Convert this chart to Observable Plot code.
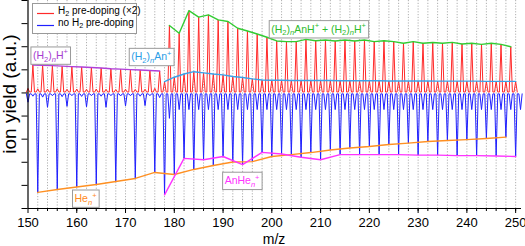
<!DOCTYPE html>
<html><head><meta charset="utf-8">
<script src="https://cdn.jsdelivr.net/npm/d3@7"></script>
<script src="https://cdn.jsdelivr.net/npm/@observablehq/plot@0.6"></script>
<style>
body{margin:0;background:#fff}
svg{font-family:"Liberation Sans",Arial,sans-serif}
</style>
</head><body><div id="chart"></div>
<script>
// ---------- data ----------
// x-axis labels and dotted grid positions (m/z)
const xTicks = [150,160,170,180,190,200,210,220,230,240,250];
const gridMz = [152,154,156,158,160,162,164,166,168,170,172,174,176,178,180,182,184,186,188,190,192,194,196,198,200,202,204,206,208,210,212,214,216,218,220,222,224,226,228,230,232,234,236,238,240,242,244,246,248,250];
const yTicks = [-5,-4,-3,-2,-1,0,1,2,3,4];

// red trace (H2 pre-doping, x2): peak heights
const hnHMz0 = 151;   // (H2)nH+ peaks, odd m/z 151..177
const hnHPeaks = [1.21,1.20,1.18,1.16,1.14,1.12,1.10,1.08,1.05,1.03,1.01,0.99,0.97,0.95];
const anHMz0 = 179;   // (H2)nAnH+ + (H2)nH+ peaks, odd m/z 179..249
const anHPeaks = [2.92,2.58,3.56,3.28,3.38,3.16,3.09,2.80,2.68,2.55,2.41,2.25,2.22,2.22,2.32,2.26,2.29,2.25,2.29,2.25,2.29,2.22,2.26,2.22,2.15,2.22,2.15,2.18,2.15,2.19,2.12,2.15,2.10,2.15,2.10,2.00];
const redEvenMz0 = 150; // small even-mass peaks 150..176
const redEvenPre = [0.20,0.18,0.17,0.18,0.16,0.17,0.16,0.17,0.16,0.15,0.16,0.15,0.16,0.20];
const anMz0 = 178;    // (H2)nAn+ peaks, even m/z 178..250
const anPeaks = [0.49,0.68,0.82,0.92,0.87,0.82,0.78,0.71,0.67,0.61,0.56,0.55,0.55,0.54,0.54,0.54,0.54,0.54,0.53,0.53,0.53,0.53,0.53,0.52,0.52,0.52,0.52,0.52,0.51,0.51,0.51,0.51,0.51,0.50,0.50,0.50,0.50];
const redFloor = 0.04;

// blue trace (no H2 pre-doping), drawn downward
const heMz0 = 152;    // Hen+ dips, m/z 152..248 step 4
const heDips = [-4.30,-4.18,-4.07,-3.96,-3.83,-3.70,-3.44,-3.53,-3.31,-3.14,-2.99,-2.97,-2.75,-2.67,-2.58,-2.47,-2.38,-2.32,-2.23,-2.17,-2.10,-2.06,-2.02,-1.97,-1.91];
const anHeMz0 = 178;  // AnHen+ dips, m/z 178..250 step 4
const anHeDips = [-4.41,-2.83,-2.89,-2.75,-3.10,-2.57,-2.64,-2.78,-2.89,-2.67,-2.67,-2.67,-2.67,-2.69,-2.69,-2.71,-2.71,-2.73,-2.75];
const blueMidMz0 = 150; // other even dips 150..174 step 4
const blueMidPre = [-0.40,-0.62,-0.58,-0.60,-0.62,-0.56,-0.55];
const blueOddPre = [-0.14,-0.18,-0.12,-0.16,-0.12,-0.15,-0.12,-0.14,-0.12,-0.13,-0.12,-0.14,-0.12,-0.20]; // 151..177
const blueOddPost = [-1.10,-0.72,-0.72,-0.72,-0.72,-0.72,-0.72,-0.72,-0.72,-0.72,-0.72,-0.72,-0.72,-0.72,-0.72,-0.72,-0.72,-0.72,-0.72,-0.72,-0.72,-0.72,-0.72,-0.72,-0.72,-0.72,-0.72,-0.72,-0.72,-0.72,-0.72,-0.72,-0.72,-0.72,-0.72,-0.72,-0.72]; // 179..251
const blueFloor = -0.04;
const peakHalfWidth = 0.33; // m/z, half base width of each peak

// annotations
const annotations = [
  {label:"(H_{2})_{n}H^{+}", mz:154.6, v:1.62, color:"#a63dd0"},
  {label:"(H_{2})_{n}An^{+}", mz:175.3, v:1.56, color:"#2b9de6"},
  {label:"(H_{2})_{n}AnH^{+} + (H_{2})_{n}H^{+}", mz:209.6, v:2.76, color:"#2dbb2d"},
  {label:"He_{n}^{+}", mz:161.8, v:-4.57, color:"#ff8a1c"},
  {label:"AnHe_{n}^{+}", mz:193.9, v:-3.80, color:"#ff33ff"}
];
const legendItems = [
  {label:"H_{2} pre-doping (×2)", color:"#ff2a2a"},
  {label:"no H_{2} pre-doping", color:"#2020ff"}
];

// ---------- build series ----------
const pts = (arr, m0, step) => arr.map((v, i) => ({mz: m0 + step * i, v}));
const hnH = pts(hnHPeaks, hnHMz0, 2);
const anH = pts(anHPeaks, anHMz0, 2);
const an = pts(anPeaks, anMz0, 2);
const he = pts(heDips, heMz0, 4);
const anHe = pts(anHeDips, anHeMz0, 4);

function withFloor(peaks, floor) {
  const out = [];
  for (const p of peaks) {
    out.push({mz: p.mz - peakHalfWidth, v: floor}, p, {mz: p.mz + peakHalfWidth, v: floor});
  }
  return out.sort((a, b) => a.mz - b.mz);
}
const redPts = withFloor([...hnH, ...anH, ...an, ...pts(redEvenPre, redEvenMz0, 2)], redFloor);
const bluePts = withFloor([...he, ...anHe, ...pts(blueMidPre, blueMidMz0, 4), ...pts(blueOddPre, 151, 2), ...pts(blueOddPost, 179, 2)], blueFloor);

const RED = "#ff2a2a", BLUE = "#2020ff";

const chart = Plot.plot({
  width: 525, height: 246,
  marginLeft: 27.5, marginRight: 4, marginTop: 0, marginBottom: 38,
  style: {fontFamily: '"Liberation Sans", Arial, sans-serif', fontSize: "13px", background: "white", color: "black"},
  x: {domain: [150, 251.2]},
  y: {domain: [-5, 4]},
  marks: [
    Plot.ruleX(gridMz, {stroke: "#b0b0b0", strokeDasharray: "1.2,1.6", strokeWidth: 1}),
    Plot.line(bluePts, {x: "mz", y: "v", stroke: BLUE, strokeWidth: 1}),
    Plot.line(redPts, {x: "mz", y: "v", stroke: RED, strokeWidth: 1}),
    Plot.line(hnH, {x: "mz", y: "v", stroke: "#b040d8", strokeWidth: 1.4}),
    Plot.line(anH, {x: "mz", y: "v", stroke: "#33cc33", strokeWidth: 1.4}),
    Plot.line(an, {x: "mz", y: "v", stroke: "#3aa2ea", strokeWidth: 1.4}),
    Plot.line(he, {x: "mz", y: "v", stroke: "#ff9022", strokeWidth: 1.4}),
    Plot.line(anHe, {x: "mz", y: "v", stroke: "#ff33ff", strokeWidth: 1.4}),
    Plot.ruleX([150], {stroke: "black", strokeWidth: 1.2}),
    Plot.ruleY([-5], {stroke: "black", strokeWidth: 1.2}),
    Plot.axisY({ticks: yTicks, tickSize: 6, tickFormat: () => "", label: null}),
    Plot.axisX({ticks: gridMz, tickSize: 3, tickFormat: () => "", label: null}),
    Plot.axisX({ticks: xTicks, tickSize: 5, tickPadding: 4, label: null, fontSize: 13}),
    ...annotations.map(a => Plot.text([a], {x: "mz", y: "v", text: "label", fill: a.color, fontSize: 10.5}))
  ]
});
document.getElementById("chart").appendChild(chart);

// ---------- rich text (sub/superscripts) ----------
const NS = "http://www.w3.org/2000/svg";
function richify(el, subK = 0.28, supK = 0.42) {
  const src = el.textContent;
  const fs = parseFloat(getComputedStyle(el).fontSize) || 10;
  el.textContent = "";
  const re = /([_^])\{([^}]*)\}|([^_^]+)/g;
  let m, shift = 0;
  while ((m = re.exec(src))) {
    const t = document.createElementNS(NS, "tspan");
    let target = 0, content;
    if (m[1]) {
      target = m[1] === "_" ? subK * fs : -supK * fs;
      content = m[2];
      t.setAttribute("font-size", (0.72 * fs).toFixed(2));
      if (content === "n") t.setAttribute("font-style", "italic");
    } else content = m[3];
    t.setAttribute("dy", (target - shift).toFixed(2));
    shift = target;
    t.textContent = content;
    el.appendChild(t);
  }
}
const annLabels = new Set(annotations.map(a => a.label));
d3.select(chart).selectAll("text").each(function () {
  if (annLabels.has(this.textContent)) {
    richify(this);
    const b = this.getBBox();
    const r = document.createElementNS(NS, "rect");
    r.setAttribute("x", b.x - 2); r.setAttribute("y", b.y - 0.5);
    r.setAttribute("width", b.width + 4); r.setAttribute("height", b.height + 1);
    r.setAttribute("fill", "white"); r.setAttribute("stroke", "#9a9a9a"); r.setAttribute("stroke-width", 1);
    const tr = this.getAttribute("transform");
    if (tr) r.setAttribute("transform", tr);
    this.parentNode.insertBefore(r, this);
  }
});

const svg = d3.select(chart);
// axis titles
svg.append("text").attr("transform", "translate(16,94) rotate(-90)")
  .attr("text-anchor", "middle").attr("font-size", 19).attr("fill", "black").text("ion yield (a.u.)");
svg.append("text").attr("x", 274).attr("y", 244)
  .attr("text-anchor", "middle").attr("font-size", 14).attr("fill", "black").text("m/z");

// ---------- legend ----------
const lg = svg.append("g").attr("font-size", 10).attr("text-anchor", "start");
lg.append("rect").attr("x", 32.5).attr("y", 3.5).attr("width", 104).attr("height", 30)
  .attr("fill", "white").attr("stroke", "#9a9a9a");
legendItems.forEach((d, i) => {
  const y = 13.5 + i * 12;
  lg.append("line").attr("x1", 37).attr("x2", 54).attr("y1", y).attr("y2", y).attr("stroke", d.color).attr("stroke-width", 1.2);
  const t = lg.append("text").attr("x", 58).attr("y", y).attr("dy", "0.35em").attr("fill", "black").text(d.label);
  richify(t.node(), 0.2, 0.4);
});
</script>
</body></html>
